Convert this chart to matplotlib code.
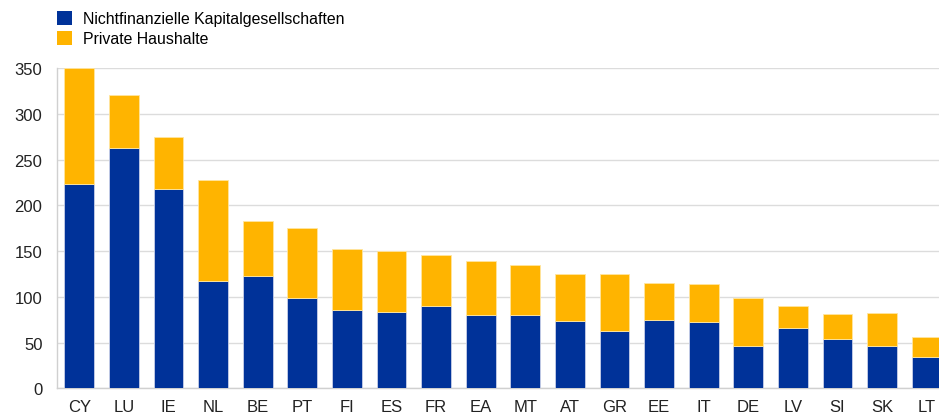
# encoding:utf-8
"""
Verschuldung nach Sektoren, gestapelte Balken je Land
"""
import numpy as np
import matplotlib
matplotlib.use("Agg")
import matplotlib.pyplot as plt
from matplotlib.patches import Patch

laender = ["CY", "LU", "IE", "NL", "BE", "PT", "FI", "ES", "FR", "EA",
           "MT", "AT", "GR", "EE", "IT", "DE", "LV", "SI", "SK", "LT"]
nfk = [223, 263, 218, 117, 123, 99, 86, 83, 90, 80,
       80, 74, 63, 75, 72, 46, 66, 54, 46, 34]
gesamt = [350, 320, 275, 228, 183, 175, 152, 150, 146, 139,
          135, 125, 125, 115, 114, 99, 90, 81, 82, 56]
haushalte = [g - n for g, n in zip(gesamt, nfk)]

blau = "#003299"
gelb = "#ffb400"

plt.rcParams["font.family"] = ["Liberation Sans", "DejaVu Sans"]

fig = plt.figure(figsize=(9.39, 4.14), dpi=100)
ax = fig.add_axes([57 / 939, 0.0597, 892 / 939, 0.7736])

x = np.arange(len(laender))
breite = 0.665
ax.bar(x, nfk, breite, color=blau, edgecolor="#c8d0e8", linewidth=0.6, zorder=3)
ax.bar(x, haushalte, breite, bottom=nfk, color=gelb, edgecolor="#ffe6a0",
       linewidth=0.6, zorder=3)

ax.set_xlim(-0.5, len(laender) - 0.5)
ax.set_ylim(0, 350)
ax.set_yticks(range(0, 351, 50))
ax.set_xticks(x)
ax.set_xticklabels(laender)
ax.tick_params(axis="both", length=0, labelsize=12, colors="#222222")
ax.tick_params(axis="y", pad=10.5)
ax.tick_params(axis="x", pad=7.5)

ax.grid(axis="y", color="#dcdcdc", linewidth=1.0, zorder=0)
for seite in ["top", "right"]:
    ax.spines[seite].set_visible(False)
ax.spines["left"].set_color("#d0d0d0")
ax.spines["bottom"].set_color("#d0d0d0")
ax.spines["left"].set_linewidth(1.0)
ax.spines["bottom"].set_linewidth(1.0)

# Legende oben links, ausserhalb der Achsen
handles = [Patch(facecolor=blau, label="Nichtfinanzielle Kapitalgesellschaften"),
           Patch(facecolor=gelb, label="Private Haushalte")]
fig.legend(handles=handles, loc="upper left", bbox_to_anchor=(56.5 / 939, 1 - 12 / 414),
           frameon=False, fontsize=11.4, handlelength=0.95, handleheight=0.95,
           handletextpad=0.75, labelspacing=0.3, borderpad=0, borderaxespad=0)

plt.savefig("out.png", dpi=100)
